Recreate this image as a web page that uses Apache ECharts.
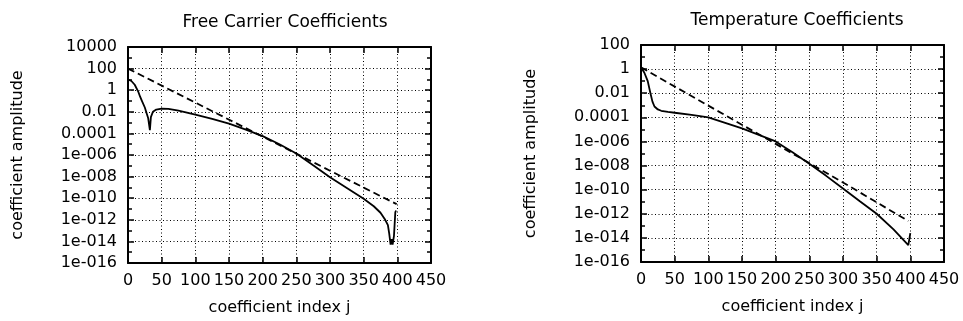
<!DOCTYPE html>
<html>
<head>
<meta charset="utf-8">
<script src="https://cdn.jsdelivr.net/npm/echarts@6/dist/echarts.min.js"></script>
<style>
html,body{margin:0;padding:0;background:#fff;}
#chart{width:963px;height:321px;}
</style>
</head>
<body>
<div id="chart"></div>
<script>
// ---- data ----
const xTicks = [0, 50, 100, 150, 200, 250, 300, 350, 400, 450];

const yTicksFree = [1e-16, 1e-14, 1e-12, 1e-10, 1e-8, 1e-6, 1e-4, 1e-2, 1, 1e2, 1e4];
const yTickLabelsFree = ['1e-016', '1e-014', '1e-012', '1e-010', '1e-008', '1e-006', '0.0001', '0.01', '1', '100', '10000'];
const yTicksTemp = [1e-16, 1e-14, 1e-12, 1e-10, 1e-8, 1e-6, 1e-4, 1e-2, 1, 1e2];
const yTickLabelsTemp = ['1e-016', '1e-014', '1e-012', '1e-010', '1e-008', '1e-006', '0.0001', '0.01', '1', '100'];

// Free carrier coefficients (solid)
const jFreeSolid = [0, 5, 10, 15, 18, 20, 25, 28, 30, 32.5, 34, 37, 42, 50, 60, 75, 100, 125, 150, 175, 200, 225, 250, 275, 300, 325, 350, 365, 375, 382, 386, 388, 390, 391.5, 393, 395, 397, 398];
const ampFreeSolid = [1.0e1, 7.1e0, 3.2e0, 7.9e-1, 2.5e-1, 1.3e-1, 2.5e-2, 6.3e-3, 2.5e-3, 2.0e-4, 3.2e-3, 1.0e-2, 1.6e-2, 2.0e-2, 1.9e-2, 1.26e-2, 5.6e-3, 2.2e-3, 7.9e-4, 2.2e-4, 5.6e-5, 1.0e-5, 1.4e-6, 1.1e-7, 8.9e-9, 8.9e-10, 8.9e-11, 1.8e-11, 4.5e-12, 1.0e-12, 3.2e-13, 5.0e-14, 5.0e-15, 1.6e-14, 5.0e-15, 3.2e-14, 5.0e-12, 7.2e-12];
// Free carrier bound (dashed)
const jFreeDashed = [0, 100, 200, 300, 399];
const ampFreeDashed = [1.0e2, 7.1e-2, 5.0e-5, 3.5e-8, 2.8e-11];

// Temperature coefficients (solid)
const jTempSolid = [0, 5, 10, 14, 17, 20, 25, 30, 40, 50, 75, 100, 125, 150, 175, 200, 225, 250, 275, 300, 325, 350, 375, 397, 400];
const ampTempSolid = [1.4e0, 5.0e-1, 1.0e-1, 1.0e-2, 2.0e-3, 7.9e-4, 4.5e-4, 3.5e-4, 2.8e-4, 2.4e-4, 1.6e-4, 1.0e-4, 3.5e-5, 1.2e-5, 3.5e-6, 1.0e-6, 1.26e-7, 1.4e-8, 1.4e-9, 1.26e-10, 1.1e-11, 1.0e-12, 5.0e-14, 2.5e-15, 2.5e-14];
// Temperature bound (dashed)
const jTempDashed = [0, 100, 200, 300, 397];
const ampTempDashed = [1.4e0, 9.3e-4, 6.3e-7, 4.0e-10, 2.5e-13];

// ---- helpers ----
const FONT = 'DejaVu Sans';
function toPairs(js, amps) { return js.map((j, i) => [j, Math.log10(amps[i])]); }
function labelMap(ticks, labels) {
  const m = {};
  ticks.forEach((t, i) => { m[Math.round(Math.log10(t))] = labels[i]; });
  return m;
}
const mapFree = labelMap(yTicksFree, yTickLabelsFree);
const mapTemp = labelMap(yTicksTemp, yTickLabelsTemp);

const gridLine = { show: true, lineStyle: { color: '#000', width: 1, type: [1, 2.5] } };
const frameLine = { show: true, onZero: false, lineStyle: { color: '#000', width: 2 } };
const tickStyle = { show: true, inside: true, length: 6, lineStyle: { color: '#000', width: 1.5 } };
const minorTickStyle = { show: true, splitNumber: 2, length: 4, lineStyle: { color: '#000', width: 1.5 } };

function xAxes(g) {
  return [
    {
      type: 'value', gridIndex: g, position: 'bottom', min: xTicks[0], max: xTicks[xTicks.length - 1], interval: 50,
      axisLine: frameLine, axisTick: tickStyle, splitLine: gridLine,
      axisLabel: { color: '#000', fontFamily: FONT, fontSize: 16, margin: 10 },
      name: 'coefficient index j', nameLocation: 'middle', nameGap: 37,
      nameTextStyle: { color: '#000', fontFamily: FONT, fontSize: 16 }
    },
    {
      type: 'value', gridIndex: g, position: 'top', min: xTicks[0], max: xTicks[xTicks.length - 1], interval: 50,
      axisLine: frameLine, axisTick: tickStyle, splitLine: { show: false }, axisLabel: { show: false }
    }
  ];
}
function yAxes(g, minE, maxE, map) {
  return [
    {
      type: 'value', gridIndex: g, position: 'left', min: minE, max: maxE, interval: 2,
      axisLine: frameLine, axisTick: tickStyle, minorTick: minorTickStyle, splitLine: gridLine,
      axisLabel: { color: '#000', fontFamily: FONT, fontSize: 16, margin: 11,
        formatter: v => (map[Math.round(v)] !== undefined ? map[Math.round(v)] : '') },
      name: 'coefficient amplitude', nameLocation: 'middle', nameRotate: 90, nameGap: 102,
      nameTextStyle: { color: '#000', fontFamily: FONT, fontSize: 16 }
    },
    {
      type: 'value', gridIndex: g, position: 'right', min: minE, max: maxE, interval: 2,
      axisLine: frameLine, axisTick: tickStyle, minorTick: minorTickStyle, splitLine: { show: false },
      axisLabel: { show: false }
    }
  ];
}
function lineSeries(g, data, dashed) {
  return {
    type: 'line', xAxisIndex: g * 2, yAxisIndex: g * 2, data: data, showSymbol: false, smooth: false,
    animation: false, z: 5,
    lineStyle: { color: '#000', width: 1.8, type: dashed ? [7, 4] : 'solid' }
  };
}

const chart = echarts.init(document.getElementById('chart'), null, { renderer: 'canvas' });
chart.setOption({
  animation: false,
  backgroundColor: '#fff',
  title: [
    { text: 'Free Carrier Coefficients', left: 280, top: 9, textAlign: 'center',
      textStyle: { color: '#000', fontFamily: FONT, fontSize: 17, fontWeight: 'normal' } },
    { text: 'Temperature Coefficients', left: 792, top: 7, textAlign: 'center',
      textStyle: { color: '#000', fontFamily: FONT, fontSize: 17, fontWeight: 'normal' } }
  ],
  grid: [
    { left: 128, top: 47, width: 303, height: 218, containLabel: false },
    { left: 641, top: 45, width: 303, height: 217, containLabel: false }
  ],
  xAxis: [...xAxes(0), ...xAxes(1)],
  yAxis: [...yAxes(0, -16, 4, mapFree), ...yAxes(1, -16, 2, mapTemp)],
  series: [
    lineSeries(0, toPairs(jFreeSolid, ampFreeSolid), false),
    lineSeries(0, toPairs(jFreeDashed, ampFreeDashed), true),
    lineSeries(1, toPairs(jTempSolid, ampTempSolid), false),
    lineSeries(1, toPairs(jTempDashed, ampTempDashed), true)
  ]
});
</script>
</body>
</html>
